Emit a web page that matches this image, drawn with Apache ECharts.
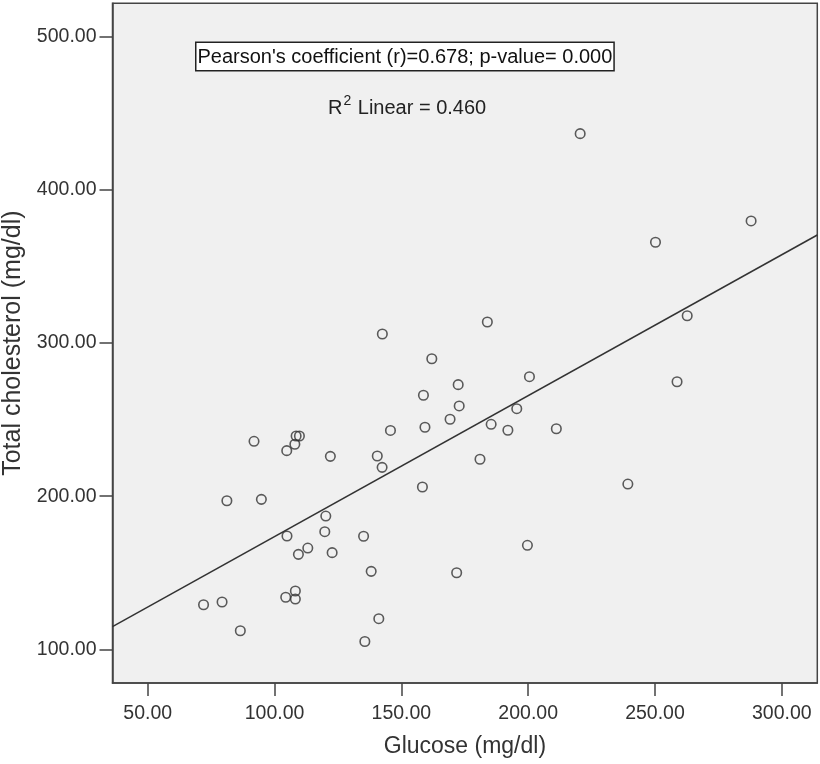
<!DOCTYPE html>
<html>
<head>
<meta charset="utf-8">
<script src="https://cdn.jsdelivr.net/npm/echarts@6/dist/echarts.min.js"></script>
<style>
  html, body { margin: 0; padding: 0; background: #fff; }
  #chart { width: 820px; height: 764px; }
</style>
</head>
<body>
<div id="chart"></div>
<script>
// glucose (x) vs total cholesterol (y)
const glucose = [
  220.5, 287.9, 250.2, 183.9, 262.7, 142.5, 162.0, 158.7, 172.4, 172.8,
  200.5, 258.7, 195.5, 185.4, 169.2, 159.3, 192.0, 211.1, 145.7, 91.9,
  108.5, 109.8, 108.0, 104.8, 122.0, 140.5, 142.4, 181.0, 158.3, 239.3,
  81.2, 94.8, 120.2, 119.8, 104.9, 113.1, 109.4, 135.1, 122.7, 199.7,
  138.1, 171.8, 72.0, 79.3, 108.2, 104.4, 108.2, 86.5, 141.1, 135.6
];
const cholesterol = [
  436.7, 379.7, 365.8, 313.7, 317.8, 305.9, 289.7, 265.9, 272.8, 258.9,
  278.0, 274.7, 257.1, 246.9, 250.2, 245.0, 243.0, 244.0, 242.9, 235.8,
  239.3, 239.3, 233.9, 229.7, 226.0, 226.2, 218.8, 224.1, 206.0, 207.9,
  197.0, 197.9, 187.0, 176.8, 174.0, 166.1, 162.0, 173.8, 163.1, 167.9,
  150.9, 150.0, 129.1, 130.9, 138.1, 134.0, 132.8, 112.1, 120.0, 105.1
];
// fit line end points
const fitX = [36.1, 314.0];
const fitY = [114.8, 370.5];

const xTicks = [50, 100, 150, 200, 250, 300];
const yTicks = [100, 200, 300, 400, 500];

const points = glucose.map((g, i) => [g, cholesterol[i]]);
const fitLine = fitX.map((x, i) => [x, fitY[i]]);

const font = '"Liberation Sans", Arial, sans-serif';
const chart = echarts.init(document.getElementById('chart'));

chart.setOption({
  backgroundColor: '#fff',
  animation: false,
  grid: {
    left: 112.5, right: 2.7, top: 3.3, bottom: 81,
    containLabel: false,
    outerBoundsMode: 'none',
    show: true,
    backgroundColor: '#f0f0f0',
    borderColor: '#444',
    borderWidth: 1.5
  },
  xAxis: {
    type: 'value',
    min: 36.1,
    max: 314.0,
    name: 'Glucose (mg/dl)',
    nameLocation: 'middle',
    nameGap: 52,
    nameTextStyle: { fontFamily: font, fontSize: 23, color: '#333' },
    axisLine: { show: true, lineStyle: { color: '#444', width: 1.5 } },
    axisTick: { show: true, length: 13, customValues: xTicks, lineStyle: { color: '#444', width: 1.5 } },
    axisLabel: {
      customValues: xTicks, margin: 21,
      fontFamily: font, fontSize: 19.5, color: '#333',
      formatter: v => v.toFixed(2)
    },
    splitLine: { show: false }
  },
  yAxis: {
    type: 'value',
    min: 78.0,
    max: 521.8,
    name: 'Total cholesterol (mg/dl)',
    nameLocation: 'middle',
    nameGap: 87,
    nameTextStyle: { fontFamily: font, fontSize: 25, color: '#333' },
    axisLine: { show: true, lineStyle: { color: '#444', width: 1.5 } },
    axisTick: { show: true, length: 13, customValues: yTicks, lineStyle: { color: '#444', width: 1.5 } },
    axisLabel: {
      customValues: yTicks, margin: 16,
      fontFamily: font, fontSize: 19.5, color: '#333',
      formatter: v => v.toFixed(2)
    },
    splitLine: { show: false }
  },
  graphic: [
    {
      type: 'text',
      left: 195, top: 41.5,
      style: {
        text: "Pearson's coefficient (r)=0.678; p-value= 0.000",
        font: '20px ' + font,
        lineHeight: 22,
        fill: '#111',
        backgroundColor: '#fff',
        borderColor: '#222',
        borderWidth: 1.5,
        padding: [3, 1, 2, 1]
      }
    },
    {
      type: 'text',
      left: 328, top: 94,
      style: {
        text: '{b|R}{s|2}{b| Linear = 0.460}',
        rich: {
          b: { font: '20px ' + font, fill: '#222', lineHeight: 24, verticalAlign: 'bottom' },
          s: { font: '14px ' + font, fill: '#222', lineHeight: 24, verticalAlign: 'top', padding: [0, 1, 0, 1] }
        }
      }
    }
  ],
  series: [
    {
      type: 'line',
      data: fitLine,
      showSymbol: false,
      symbol: 'none',
      lineStyle: { color: '#333', width: 1.5 },
      z: 2
    },
    {
      type: 'scatter',
      data: points,
      symbol: 'circle',
      symbolSize: 9.5,
      itemStyle: { color: 'rgba(0,0,0,0)', borderColor: '#333', borderWidth: 1.6 },
      z: 3
    }
  ]
});
</script>
</body>
</html>
